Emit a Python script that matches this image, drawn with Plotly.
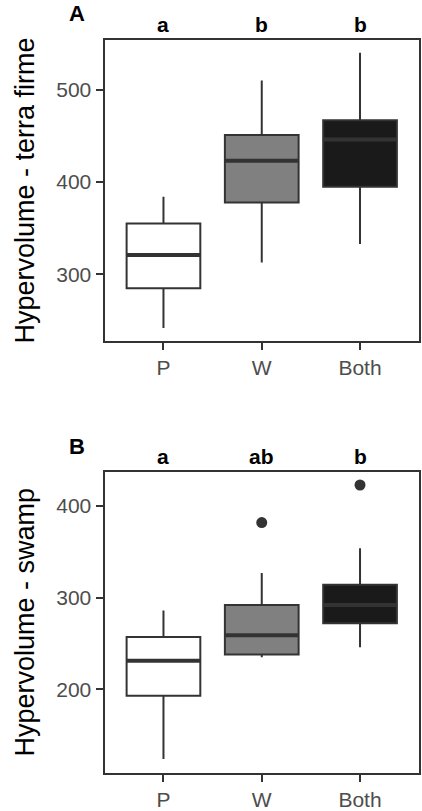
import plotly.graph_objects as go
from plotly.subplots import make_subplots

categories = ["P", "W", "Both"]
fills = ["#ffffff", "#808080", "#1a1a1a"]

# Panel A: terra firme
a_low = [242, 313, 333]
a_q1 = [285, 378, 395]
a_med = [321, 423, 446]
a_q3 = [355, 451, 467]
a_high = [384, 510, 540]
a_letters = ["a", "b", "b"]
a_out_x = []
a_out_y = []

# Panel B: swamp
b_low = [124, 235, 246]
b_q1 = [193, 238, 272]
b_med = [231, 259, 292]
b_q3 = [257, 292, 314]
b_high = [286, 327, 354]
b_letters = ["a", "ab", "b"]
b_out_x = [1, 2]
b_out_y = [382, 423]

W, H = 422, 811
FONT = "Liberation Sans, Arial, sans-serif"
LINE = "#333333"

fig = go.Figure()

def add_panel(low, q1, med, q3, high, ox, oy, xa, ya):
    for i in range(len(categories)):
        fig.add_trace(go.Box(
            x=[i], q1=[q1[i]], median=[med[i]], q3=[q3[i]],
            lowerfence=[low[i]], upperfence=[high[i]],
            width=0.75, fillcolor=fills[i], whiskerwidth=0,
            line=dict(color=LINE, width=2), boxpoints=False,
            xaxis=xa, yaxis=ya, showlegend=False, hoverinfo="skip"))
        fig.add_trace(go.Scatter(
            x=[i - 0.375, i + 0.375], y=[med[i], med[i]], mode="lines",
            line=dict(color=LINE, width=4), xaxis=xa, yaxis=ya,
            showlegend=False, hoverinfo="skip"))
    if ox:
        fig.add_trace(go.Scatter(
            x=ox, y=oy, mode="markers",
            marker=dict(color=LINE, size=11),
            xaxis=xa, yaxis=ya, showlegend=False, hoverinfo="skip"))

add_panel(a_low, a_q1, a_med, a_q3, a_high, a_out_x, a_out_y, "x", "y")
add_panel(b_low, b_q1, b_med, b_q3, b_high, b_out_x, b_out_y, "x2", "y2")

xdom = [104.5 / W, 419 / W]
axis_common = dict(showline=True, linecolor=LINE, linewidth=2, mirror=True,
                   ticks="outside", ticklen=7, tickwidth=2, tickcolor=LINE,
                   showgrid=False, zeroline=False,
                   tickfont=dict(family=FONT, size=21, color="#4d4d4d"))

fig.update_layout(
    width=W, height=H, margin=dict(l=0, r=0, t=0, b=0),
    paper_bgcolor="white", plot_bgcolor="white", boxmode="overlay",
    xaxis=dict(domain=xdom, anchor="y", range=[-0.6, 2.6],
               tickvals=[0, 1, 2], ticktext=categories, **axis_common),
    yaxis=dict(domain=[1 - 341.7 / H, 1 - 40 / H], anchor="x",
               range=[228, 554], tickvals=[300, 400, 500], **axis_common),
    xaxis2=dict(domain=xdom, anchor="y2", range=[-0.6, 2.6],
                tickvals=[0, 1, 2], ticktext=categories, **axis_common),
    yaxis2=dict(domain=[1 - 775 / H, 1 - 472.7 / H], anchor="x2",
                range=[108.5, 437.7], tickvals=[200, 300, 400], **axis_common),
)

ann = []
ann.append(dict(text="Hypervolume - terra firme", textangle=-90, xref="paper", yref="paper",
                x=25 / W, y=1 - 191 / H, xanchor="center", yanchor="middle", showarrow=False,
                font=dict(family=FONT, size=27, color="black")))
ann.append(dict(text="Hypervolume - swamp", textangle=-90, xref="paper", yref="paper",
                x=25 / W, y=1 - 624 / H, xanchor="center", yanchor="middle", showarrow=False,
                font=dict(family=FONT, size=27, color="black")))
for i, t in enumerate(a_letters):
    ann.append(dict(text="<b>%s</b>" % t, xref="x", yref="paper", x=i, y=1 - 24.4 / H,
                    xanchor="center", yanchor="middle", showarrow=False,
                    font=dict(family=FONT, size=21, color="black")))
for i, t in enumerate(b_letters):
    ann.append(dict(text="<b>%s</b>" % t, xref="x2", yref="paper", x=i, y=1 - 457.7 / H,
                    xanchor="center", yanchor="middle", showarrow=False,
                    font=dict(family=FONT, size=21, color="black")))
ann.append(dict(text="<b>A</b>", xref="paper", yref="paper", x=77 / W, y=1 - 14 / H,
                xanchor="center", yanchor="middle", showarrow=False,
                font=dict(family=FONT, size=22, color="black")))
ann.append(dict(text="<b>B</b>", xref="paper", yref="paper", x=77 / W, y=1 - 447.3 / H,
                xanchor="center", yanchor="middle", showarrow=False,
                font=dict(family=FONT, size=22, color="black")))
fig.update_layout(annotations=ann)

fig.write_html("out.html")
